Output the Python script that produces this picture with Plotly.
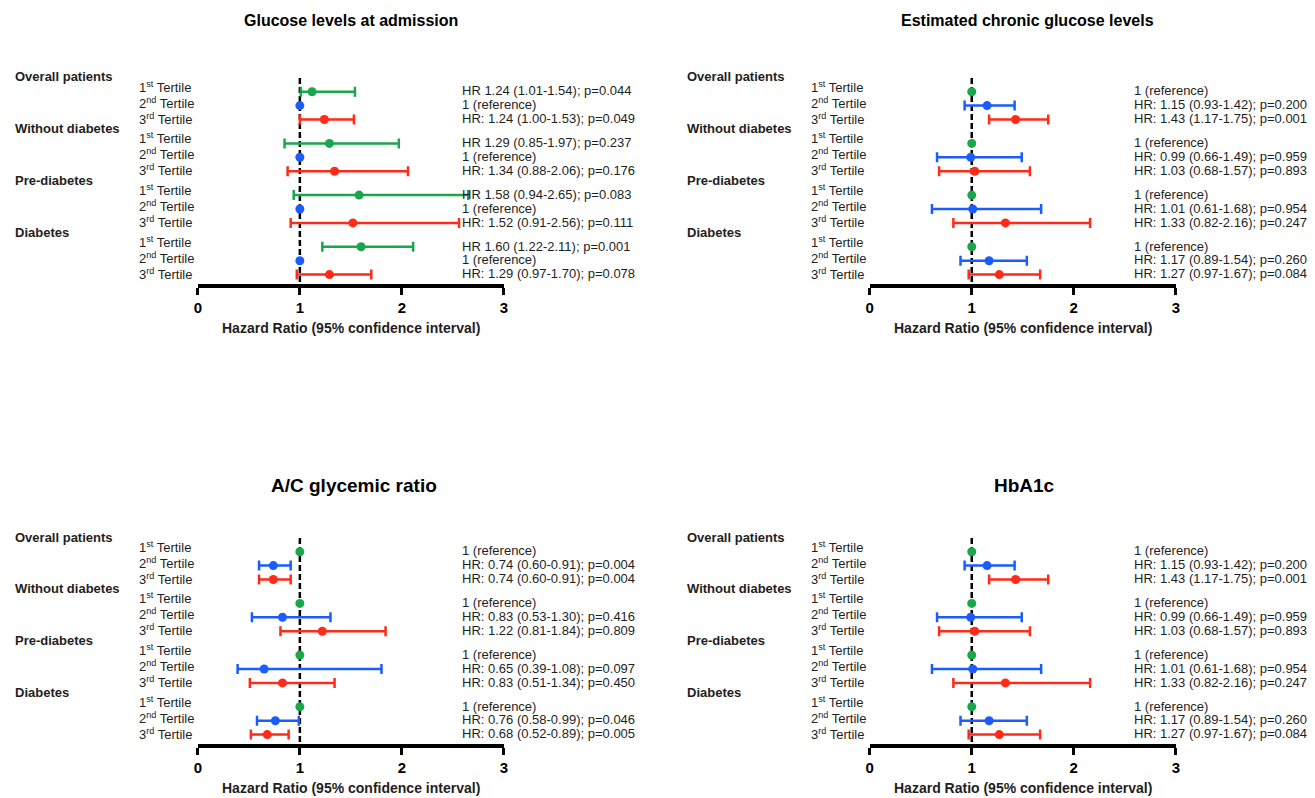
import plotly.graph_objects as go

# ---------------- data ----------------
groups = ["Overall patients", "Without diabetes", "Pre-diabetes", "Diabetes"]
tertiles = ["1<sup>st</sup> Tertile", "2<sup>nd</sup> Tertile", "3<sup>rd</sup> Tertile"]
tick_vals = [0, 1, 2, 3]
axis_title = "Hazard Ratio (95% confidence interval)"

# Panel A: Glucose levels at admission (2nd tertile = reference)
a_title = "Glucose levels at admission"
a_t1_hr = [1.12, 1.29, 1.58, 1.60]
a_t1_lo = [1.01, 0.85, 0.94, 1.22]
a_t1_hi = [1.54, 1.97, 2.65, 2.11]
a_t3_hr = [1.24, 1.34, 1.52, 1.29]
a_t3_lo = [1.00, 0.88, 0.91, 0.97]
a_t3_hi = [1.53, 2.06, 2.56, 1.70]
a_text = [
    ["HR 1.24 (1.01-1.54); p=0.044", "1 (reference)", "HR: 1.24 (1.00-1.53); p=0.049"],
    ["HR 1.29 (0.85-1.97); p=0.237", "1 (reference)", "HR: 1.34 (0.88-2.06); p=0.176"],
    ["HR 1.58 (0.94-2.65); p=0.083", "1 (reference)", "HR: 1.52 (0.91-2.56); p=0.111"],
    ["HR 1.60 (1.22-2.11); p=0.001", "1 (reference)", "HR: 1.29 (0.97-1.70); p=0.078"],
]

# Panel B: Estimated chronic glucose levels (1st tertile = reference)
b_title = "Estimated chronic glucose levels"
b_t2_hr = [1.15, 0.99, 1.01, 1.17]
b_t2_lo = [0.93, 0.66, 0.61, 0.89]
b_t2_hi = [1.42, 1.49, 1.68, 1.54]
b_t3_hr = [1.43, 1.03, 1.33, 1.27]
b_t3_lo = [1.17, 0.68, 0.82, 0.97]
b_t3_hi = [1.75, 1.57, 2.16, 1.67]
b_text = [
    ["1 (reference)", "HR: 1.15 (0.93-1.42); p=0.200", "HR: 1.43 (1.17-1.75); p=0.001"],
    ["1 (reference)", "HR: 0.99 (0.66-1.49); p=0.959", "HR: 1.03 (0.68-1.57); p=0.893"],
    ["1 (reference)", "HR: 1.01 (0.61-1.68); p=0.954", "HR: 1.33 (0.82-2.16); p=0.247"],
    ["1 (reference)", "HR: 1.17 (0.89-1.54); p=0.260", "HR: 1.27 (0.97-1.67); p=0.084"],
]

# Panel C: A/C glycemic ratio (1st tertile = reference)
c_title = "A/C glycemic ratio"
c_t2_hr = [0.74, 0.83, 0.65, 0.76]
c_t2_lo = [0.60, 0.53, 0.39, 0.58]
c_t2_hi = [0.91, 1.30, 1.80, 0.99]
c_t3_hr = [0.74, 1.22, 0.83, 0.68]
c_t3_lo = [0.60, 0.81, 0.51, 0.52]
c_t3_hi = [0.91, 1.84, 1.34, 0.89]
c_text = [
    ["1 (reference)", "HR: 0.74 (0.60-0.91); p=0.004", "HR: 0.74 (0.60-0.91); p=0.004"],
    ["1 (reference)", "HR: 0.83 (0.53-1.30); p=0.416", "HR: 1.22 (0.81-1.84); p=0.809"],
    ["1 (reference)", "HR: 0.65 (0.39-1.08); p=0.097", "HR: 0.83 (0.51-1.34); p=0.450"],
    ["1 (reference)", "HR: 0.76 (0.58-0.99); p=0.046", "HR: 0.68 (0.52-0.89); p=0.005"],
]

# Panel D: HbA1c (1st tertile = reference)
d_title = "HbA1c"
d_t2_hr = [1.15, 0.99, 1.01, 1.17]
d_t2_lo = [0.93, 0.66, 0.61, 0.89]
d_t2_hi = [1.42, 1.49, 1.68, 1.54]
d_t3_hr = [1.43, 1.03, 1.33, 1.27]
d_t3_lo = [1.17, 0.68, 0.82, 0.97]
d_t3_hi = [1.75, 1.57, 2.16, 1.67]
d_text = [
    ["1 (reference)", "HR: 1.15 (0.93-1.42); p=0.200", "HR: 1.43 (1.17-1.75); p=0.001"],
    ["1 (reference)", "HR: 0.99 (0.66-1.49); p=0.959", "HR: 1.03 (0.68-1.57); p=0.893"],
    ["1 (reference)", "HR: 1.01 (0.61-1.68); p=0.954", "HR: 1.33 (0.82-2.16); p=0.247"],
    ["1 (reference)", "HR: 1.17 (0.89-1.54); p=0.260", "HR: 1.27 (0.97-1.67); p=0.084"],
]

# ---------------- styling / layout constants (pixels) ----------------
W, H = 1315, 798
FONT = "Liberation Sans, Arial, sans-serif"
TXT = "#1e1e1e"
GREEN = "#1aa64a"
BLUE = "#1a5cff"
RED = "#ff2a17"
COLORS = [GREEN, BLUE, RED]

ROW_START, ROW_GAP, GROUP_GAP = 91.7, 13.9, 51.7
LABEL_START, LABEL_GAP = 86.7, 16.0
GROUP_LABEL_Y = 77
Y_BOTTOM, Y_TOP = 284, 40
DASH_TOP = 78
AXIS_TITLE_Y = 328
TITLE_Y = [21, 21, 25, 25]
TITLE_SIZE = [16, 16, 19, 19]
TITLE_CX = [349, 1030, 352, 1027]

panel_x0 = [195, 871, 195, 871]
panel_x1 = [503, 1179, 503, 1179]
panel_off = [0, 0, 460, 460]
GROUP_LABEL_DX = -186
TERTILE_LABEL_DX = -61
HR_TEXT_DX = 264


def row_y(g, i):
    return ROW_START + GROUP_GAP * g + ROW_GAP * i


def px(x):
    return x / W


def py(y):
    return 1 - y / H


panels = [
    dict(title=a_title, ref=1, series={0: (a_t1_hr, a_t1_lo, a_t1_hi), 2: (a_t3_hr, a_t3_lo, a_t3_hi)}, text=a_text),
    dict(title=b_title, ref=0, series={1: (b_t2_hr, b_t2_lo, b_t2_hi), 2: (b_t3_hr, b_t3_lo, b_t3_hi)}, text=b_text),
    dict(title=c_title, ref=0, series={1: (c_t2_hr, c_t2_lo, c_t2_hi), 2: (c_t3_hr, c_t3_lo, c_t3_hi)}, text=c_text),
    dict(title=d_title, ref=0, series={1: (d_t2_hr, d_t2_lo, d_t2_hi), 2: (d_t3_hr, d_t3_lo, d_t3_hi)}, text=d_text),
]

fig = go.Figure()
annotations = []
shapes = []
layout_axes = {}

for p, panel in enumerate(panels):
    n = "" if p == 0 else str(p + 1)
    xa, ya = "x" + n, "y" + n
    off = panel_off[p]
    x0 = panel_x0[p]
    layout_axes["xaxis" + n] = dict(
        domain=[px(panel_x0[p]), px(panel_x1[p])], range=[0, 3], anchor=ya,
        showgrid=False, zeroline=False, showline=True, linewidth=4, linecolor="black",
        ticks="outside", ticklen=7, tickwidth=3, tickcolor="black",
        tickvals=tick_vals, ticktext=[str(v) for v in tick_vals],
        tickfont=dict(family=FONT, size=15, color="black", weight="bold"),
        fixedrange=True,
    )
    layout_axes["yaxis" + n] = dict(
        domain=[py(Y_BOTTOM + off), py(Y_TOP + off)],
        range=[Y_BOTTOM, Y_TOP], anchor=xa, visible=False, fixedrange=True,
    )

    # dashed reference line at HR = 1
    shapes.append(dict(type="line", xref=xa, yref=ya, x0=1, x1=1, y0=DASH_TOP, y1=Y_BOTTOM + 2,
                       line=dict(color="black", width=2.5, dash="6px,3px"), layer="below"))

    for t in range(3):
        ys = [row_y(g, t) for g in range(len(groups))]
        if t == panel["ref"]:
            fig.add_trace(go.Scatter(
                x=[1] * len(groups), y=ys, mode="markers", xaxis=xa, yaxis=ya, showlegend=False,
                marker=dict(color=COLORS[t], size=9), hoverinfo="skip", cliponaxis=False))
        else:
            hr, lo, hi = panel["series"][t]
            fig.add_trace(go.Scatter(
                x=hr, y=ys, mode="markers", xaxis=xa, yaxis=ya, showlegend=False,
                marker=dict(color=COLORS[t], size=9), cliponaxis=False,
                error_x=dict(type="data", symmetric=False,
                             array=[h - v for h, v in zip(hi, hr)],
                             arrayminus=[v - l for v, l in zip(hr, lo)],
                             color=COLORS[t], thickness=2.5, width=5),
                hoverinfo="skip"))

    # title
    annotations.append(dict(x=px(TITLE_CX[p]), y=py(TITLE_Y[p] + off), xref="paper", yref="paper",
                            text=panel["title"], showarrow=False, xanchor="center", yanchor="middle",
                            font=dict(family=FONT, size=TITLE_SIZE[p], color="black", weight="bold")))
    # axis title
    annotations.append(dict(x=px((panel_x0[p] + panel_x1[p]) / 2), y=py(AXIS_TITLE_Y + off),
                            xref="paper", yref="paper", text=axis_title,
                            showarrow=False, xanchor="center", yanchor="middle",
                            font=dict(family=FONT, size=14, color=TXT, weight="bold")))

    for g, grp in enumerate(groups):
        annotations.append(dict(x=px(x0 + GROUP_LABEL_DX), y=py(GROUP_LABEL_Y + GROUP_GAP * g + off),
                                xref="paper", yref="paper", text=grp,
                                showarrow=False, xanchor="left", yanchor="middle",
                                font=dict(family=FONT, size=13, color=TXT, weight="bold")))
        for t in range(3):
            annotations.append(dict(x=px(x0 + TERTILE_LABEL_DX),
                                    y=py(LABEL_START + GROUP_GAP * g + LABEL_GAP * t + off),
                                    xref="paper", yref="paper", text=tertiles[t],
                                    showarrow=False, xanchor="left", yanchor="middle",
                                    font=dict(family=FONT, size=13, color=TXT)))
            annotations.append(dict(x=px(x0 + HR_TEXT_DX), y=py(row_y(g, t) - 0.8 + off),
                                    xref="paper", yref="paper", text=panel["text"][g][t],
                                    showarrow=False, xanchor="left", yanchor="middle",
                                    font=dict(family=FONT, size=13, color=TXT)))

fig.update_layout(
    width=W, height=H, margin=dict(l=0, r=0, t=0, b=0),
    paper_bgcolor="white", plot_bgcolor="white",
    annotations=annotations, shapes=shapes, showlegend=False,
    **layout_axes,
)

fig.write_html("out.html", config={"displayModeBar": False},
               post_script="document.body.style.margin='0';document.body.style.overflow='hidden';")
